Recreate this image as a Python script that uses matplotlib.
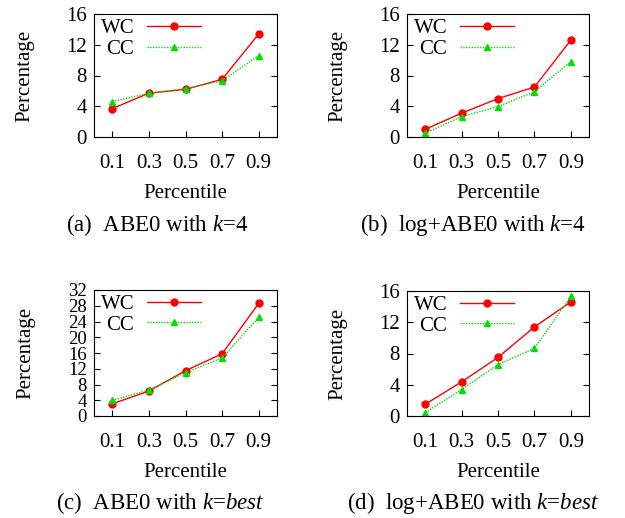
import numpy as np
import matplotlib
matplotlib.use("Agg")
from matplotlib import pyplot as plt

plt.rcParams['font.family'] = ['Liberation Serif', 'DejaVu Serif']
plt.rcParams['mathtext.fontset'] = 'custom'
plt.rcParams['mathtext.it'] = 'Liberation Serif:italic'
plt.rcParams['mathtext.rm'] = 'Liberation Serif'

percentile = [0.1, 0.3, 0.5, 0.7, 0.9]
xticklabels = ['0.1', '0.3', '0.5', '0.7', '0.9']

# (a) ABE0 with k=4
wc_a = [3.7, 5.7, 6.2, 7.5, 13.4]
cc_a = [4.6, 5.7, 6.3, 7.3, 10.6]
# (b) log+ABE0 with k=4
wc_b = [1.0, 3.1, 5.0, 6.5, 12.6]
cc_b = [0.5, 2.65, 3.95, 5.9, 9.8]
# (c) ABE0 with k=best
wc_c = [3.1, 6.35, 11.5, 15.8, 28.6]
cc_c = [3.95, 6.6, 11.0, 14.75, 25.1]
# (d) log+ABE0 with k=best
wc_d = [1.5, 4.37, 7.5, 11.4, 14.6]
cc_d = [0.43, 3.38, 6.58, 8.66, 15.3]

captions = [r'(a)  ABE0 with $k$=$4$', r'(b)  log+ABE0 with $k$=$4$',
            r'(c)  ABE0 with $k$=$best$', r'(d)  log+ABE0 with $k$=$best$']
ymaxes = [16, 16, 32, 16]
yticks = [[0, 4, 8, 12, 16], [0, 4, 8, 12, 16],
          list(range(0, 33, 4)), [0, 4, 8, 12, 16]]

W, H = 625, 518
fig = plt.figure(figsize=(W / 100, H / 100), dpi=100)

# axes boxes in pixels: left, top, right, bottom
boxes = [(94, 14, 277, 137), (407, 14, 589, 137),
         (94, 290, 277, 416), (407, 291, 589, 416)]
# caption centres in pixels
cap_pos = [(157, 225), (473, 225), (160, 503), (473, 503)]
data = [(wc_a, cc_a), (wc_b, cc_b), (wc_c, cc_c), (wc_d, cc_d)]

for i, (l, t, r, b) in enumerate(boxes):
    ax = fig.add_axes([l / W, 1 - b / H, (r - l) / W, (b - t) / H])
    wc, cc = data[i]
    ax.plot(percentile, wc, color='#ff0000', lw=1.0, marker='o', ms=5,
            label='WC')
    ax.plot(percentile, cc, color='#00e000', lw=1.0, ls=(0, (1, 1)),
            marker='^', ms=4, label='CC')
    ax.set_xlim(0.0, 1.0)
    ax.set_ylim(0, ymaxes[i])
    ax.set_xticks(percentile)
    ax.set_xticklabels(xticklabels)
    ax.set_yticks(yticks[i])
    ax.tick_params(direction='in', labelsize=15, length=4, right=True,
                   top=False, width=0.8)
    ax.tick_params(axis='x', pad=12)
    ax.tick_params(axis='y', pad=5)
    if ymaxes[i] == 32:
        ax.tick_params(axis='y', labelsize=13.5)
    ax.set_xlabel('Percentile', fontsize=15, labelpad=8)
    ax.set_ylabel('Percentage', fontsize=15,
                  labelpad=23 if ymaxes[i] == 16 else 24)
    ax.legend(loc='upper left', frameon=False, fontsize=15, handlelength=2.6,
              handletextpad=0.6, markerfirst=False, borderaxespad=0.0,
              labelspacing=0.05, bbox_to_anchor=(-0.01, 1.03))
    for s in ax.spines.values():
        s.set_linewidth(0.8)
    fig.text(cap_pos[i][0] / W, 1 - cap_pos[i][1] / H, captions[i],
             ha='center', va='center', fontsize=16.5)

fig.savefig('out.png', dpi=100)
